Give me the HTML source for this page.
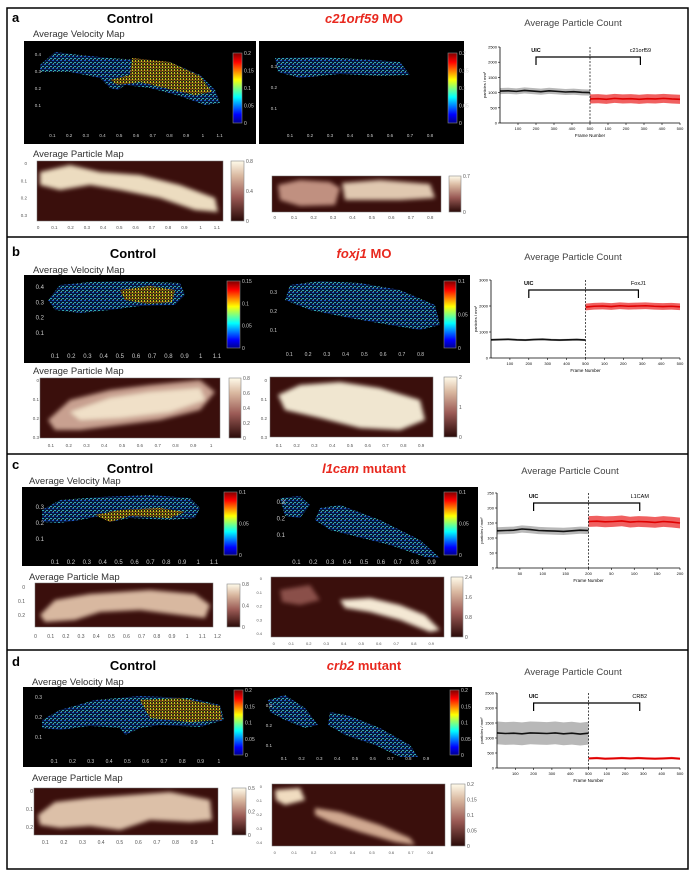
<!DOCTYPE html>
<html><head><meta charset="utf-8">
<style>
body{margin:0;background:#fff;}
svg{display:block;font-family:"Liberation Sans",Arial,sans-serif;}
</style></head>
<body>
<svg id="fig" width="693" height="875" viewBox="0 0 693 875" xmlns="http://www.w3.org/2000/svg">
<defs>
<linearGradient id="jet" x1="0" y1="1" x2="0" y2="0">
<stop offset="0" stop-color="#00008f"/><stop offset="0.12" stop-color="#0000ff"/><stop offset="0.37" stop-color="#00ffff"/><stop offset="0.62" stop-color="#ffff00"/><stop offset="0.87" stop-color="#ff0000"/><stop offset="1" stop-color="#800000"/>
</linearGradient>
<linearGradient id="pink" x1="0" y1="1" x2="0" y2="0">
<stop offset="0" stop-color="#2a0a08"/><stop offset="0.4" stop-color="#9a5a55"/><stop offset="0.75" stop-color="#d9b8a0"/><stop offset="1" stop-color="#fffbea"/>
</linearGradient>
<pattern id="dotsB" width="4" height="4" patternUnits="userSpaceOnUse">
<rect width="4" height="4" fill="#061640"/><rect x="0" y="0" width="2" height="1" fill="#1e60c0"/><rect x="2" y="2" width="2" height="1" fill="#30a8b0"/><rect x="1" y="3" width="1" height="1" fill="#5ab070"/>
</pattern>
<pattern id="dotsY" width="3" height="3" patternUnits="userSpaceOnUse">
<rect width="3" height="3" fill="#203010"/><rect x="0" y="0" width="1" height="2" fill="#c8c020"/><rect x="1.5" y="1" width="1" height="2" fill="#c05010"/>
</pattern>
<filter id="blur2"><feGaussianBlur stdDeviation="2.2"/></filter>
</defs>
<rect x="7" y="8" width="681" height="861" fill="none" stroke="#000" stroke-width="1.5"/>
<line x1="7" y1="237" x2="688" y2="237" stroke="#000" stroke-width="1.5"/>
<line x1="7" y1="454" x2="688" y2="454" stroke="#000" stroke-width="1.5"/>
<line x1="7" y1="650" x2="688" y2="650" stroke="#000" stroke-width="1.5"/>
<g id="root"></g>
</svg>
<script>
// ---- chart data (particle counts) ----
const ctrlMeanA=[1050,1060,1040,1070,1050,1030,1060,1040,1020,1030,1010,1000];
const mutMeanA=[790,800,780,810,790,800,780,800,790,810,790,780];
const ctrlMeanB=[700,710,720,700,690,710,720,700,690,700,710,690];
const mutMeanB=[1960,1990,2000,1980,2010,1990,2000,2010,1990,1980,1990,1970];
const ctrlMeanC=[124,125,126,130,128,125,124,123,122,124,126,125];
const mutMeanC=[155,156,154,155,157,153,155,154,152,155,153,150];
const ctrlMeanD=[1170,1150,1160,1140,1170,1160,1150,1170,1140,1160,1130,1160];
const mutMeanD=[320,330,310,320,330,320,330,320,310,320,330,310];
const spreadA=[100,150]; const spreadB=[40,130]; const spreadC=[12,18]; const spreadD=[380,40];
const yTicksA=[0,500,1000,1500,2000,2500]; const yTicksB=[0,1000,2000,3000];
const yTicksC=[0,50,100,150,200,250]; const yTicksD=[0,500,1000,1500,2000,2500];
const xTicks500=["100","200","300","400","500","100","200","300","400","500"];
const xTicks200=["50","100","150","200","50","100","150","200"];
const mutLabels=["c21orf59","FoxJ1","L1CAM","CRB2"];

const NS="http://www.w3.org/2000/svg";
const root=document.getElementById('root');
function mk(tag,attrs,parent){const e=document.createElementNS(NS,tag);for(const k in attrs)e.setAttribute(k,attrs[k]);(parent||root).appendChild(e);return e;}
function txt(x,y,s,size,opts,parent){const t=mk('text',Object.assign({x:x,y:y,'font-size':size},opts||{}),parent);t.textContent=s;return t;}

function chart(px,py,pw,ph,ymax,yTicks,xLabels,cMean,mMean,spread,mLabel,name){
  const g=mk('g',{});
  
  
  const ys=v=>py+ph-v/ymax*ph;
  const half=pw/2;
  function band(arr,x0,sp,fill,line,nm){
    const n=arr.length;const xs=i=>x0+i/(n-1)*half;
    let up=[],dn=[],ln=[];
    arr.forEach((v,i)=>{up.push(xs(i)+','+ys(v+sp));dn.unshift(xs(i)+','+ys(v-sp));ln.push(xs(i)+','+ys(v));});
    const b=mk('polygon',{points:up.concat(dn).join(' '),fill:fill},g);
    
    
    const l=mk('polyline',{points:ln.join(' '),fill:'none',stroke:line,'stroke-width':1.6},g);
    
    
  }
  band(cMean,px,spread[0],'#b8b8b8','#111','control');
  band(mMean,px+half,spread[1],'#f06060','#e00000','mutant');
  mk('line',{x1:px,y1:py,x2:px,y2:py+ph,stroke:'#000','stroke-width':0.8},g);
  mk('line',{x1:px,y1:py+ph,x2:px+pw,y2:py+ph,stroke:'#000','stroke-width':0.8},g);
  mk('line',{x1:px+half,y1:py,x2:px+half,y2:py+ph,stroke:'#000','stroke-width':0.7,'stroke-dasharray':'2,1.5'},g);
  yTicks.forEach(v=>{mk('line',{x1:px-2,y1:ys(v),x2:px,y2:ys(v),stroke:'#000','stroke-width':0.6},g);txt(px-3,ys(v)+1.5,String(v),4,{'text-anchor':'end'},g);});
  xLabels.forEach((s,i)=>{const x=px+(i+1)/xLabels.length*pw;mk('line',{x1:x,y1:py+ph,x2:x,y2:py+ph+2,stroke:'#000','stroke-width':0.6},g);txt(x,py+ph+7,s,4,{'text-anchor':'middle'},g);});
  txt(px+half,py+ph+14,'Frame Number',4.5,{'text-anchor':'middle'},g);
  const yl=txt(0,0,'particles / mm²',4,{'text-anchor':'middle',transform:`translate(${px-14},${py+ph/2}) rotate(-90)`},g);
  
  
  const bx1=px+pw*0.2,bx2=px+pw*0.78,by=py+10;
  mk('polyline',{points:`${bx1},${by+8} ${bx1},${by} ${bx2},${by} ${bx2},${by+8}`,fill:'none',stroke:'#000','stroke-width':1.2},g);
  txt(bx1,by-5,'UIC',5.5,{'text-anchor':'middle','font-weight':'bold'},g);
  txt(bx2,by-5,mLabel,5.5,{'text-anchor':'middle'},g);
}

function colorbar(x,y,w,h,grad,labels,color,name){
  const r=mk('rect',{x:x,y:y,width:w,height:h,fill:'url(#'+grad+')',stroke:'#888','stroke-width':0.6});
  
  
  labels.forEach((s,i)=>{txt(x+w+2,y+h-i/(labels.length-1)*h+2,s,5,{fill:color});});
}

function axesTicks(x0,y0,x1,labels,color,size,yLabels,yTop,yBot){
  labels.forEach((s,i)=>txt(x0+(i+0.5)/labels.length*(x1-x0),y0,s,size,{'text-anchor':'middle',fill:color}));
  if(yLabels) yLabels.forEach((s,i)=>txt(x0-3,yTop+i/(yLabels.length-1)*(yBot-yTop)+2,s,size,{'text-anchor':'end',fill:color}));
}

function velShape(pts,fill,name){
  const p=mk('polygon',{points:pts,fill:fill});
  
  
}
function partMap(x,y,w,h,blobs,name){
  const r=mk('rect',{x:x,y:y,width:w,height:h,fill:'#3a0f0c',stroke:'#777','stroke-width':0.5});
  
  
  const cp='cp'+name;
  const c=mk('clipPath',{id:cp});mk('rect',{x:x,y:y,width:w,height:h},c);
  const g=mk('g',{filter:'url(#blur2)','clip-path':'url(#'+cp+')'});
  blobs.forEach(b=>mk('polygon',{points:b[0],fill:b[1]},g));
}
function label(x,y,s,name,opts){const t=txt(x,y,s,opts.size,opts.a);return t;}
function mtitle(x,y,gene,rest,name){
  const t=mk('text',{x:x,y:y,'font-size':13,'font-weight':'bold','text-anchor':'middle',fill:'#e8281e'});
  
  
  const a=mk('tspan',{'font-style':'italic'},t);a.textContent=gene;
  const b=mk('tspan',{},t);b.textContent=' '+rest;
}

// ===== panel a =====
label(12,22,'a','panel-label-a',{size:13,a:{'font-weight':'bold'}});
label(130,23,'Control','title-control-a',{size:13,a:{'font-weight':'bold','text-anchor':'middle'}});
mtitle(364,23,'c21orf59','MO','title-mutant-a');
label(573,26,'Average Particle Count','title-count-a',{size:9.5,a:{'text-anchor':'middle',fill:'#444'}});
label(33,37,'Average Velocity Map','velocity-title-a',{size:9.5,a:{fill:'#333'}});
mk('rect',{x:24,y:41,width:232,height:103,fill:'#000'});
mk('rect',{x:259,y:41,width:205,height:103,fill:'#000'});
velShape('40,65 55,52 80,55 110,58 140,60 170,62 200,75 215,90 220,103 205,105 180,96 150,88 125,85 118,90 110,88 100,78 70,72 40,72','url(#dotsB)','velocity-control-a');
velShape('132,58 170,62 200,76 212,92 195,95 165,88 140,82 118,85 110,80 130,75','url(#dotsY)','velocity-fast-a');
velShape('275,58 320,57 375,60 400,62 410,75 380,76 340,74 300,78 278,72','url(#dotsB)','velocity-mutant-a');
colorbar(233,53,9,70,'jet',['0','0.05','0.1','0.15','0.2'],'#ccc','colorbar-velocity-control-a');
colorbar(448,53,9,70,'jet',['0','0.05','0.1','0.15','0.2'],'#ccc','colorbar-velocity-mutant-a');
axesTicks(44,137,228,['0.1','0.2','0.3','0.4','0.5','0.6','0.7','0.8','0.9','1','1.1'],'#ccc',4.5,['0.4','0.3','0.2','0.1'],54,105);
axesTicks(280,137,440,['0.1','0.2','0.3','0.4','0.5','0.6','0.7','0.8'],'#ccc',4.5,['0.3','0.2','0.1'],66,108);
label(33,157,'Average Particle Map','particle-title-a',{size:9.5,a:{fill:'#333'}});
partMap(37,161,186,60,[['40,172 70,165 100,172 140,175 180,185 215,198 218,212 195,210 160,198 120,190 90,185 60,190 40,185','#ecdcc0']],'particle-map-control-a');
colorbar(231,161,13,60,'pink',['0','0.4','0.8'],'#555','colorbar-particle-control-a');
partMap(272,176,169,36,[['278,185 300,180 330,182 340,188 335,205 300,206 280,200','#c09080'],['342,183 380,180 430,184 435,198 400,200 345,200','#e0c8b0']],'particle-map-mutant-a');
colorbar(449,176,12,36,'pink',['0','0.7'],'#555','colorbar-particle-mutant-a');
axesTicks(30,229,225,['0','0.1','0.2','0.3','0.4','0.5','0.6','0.7','0.8','0.9','1','1.1'],'#555',4.5,['0','0.1','0.2','0.3'],163,215);
axesTicks(265,219,440,['0','0.1','0.2','0.3','0.4','0.5','0.6','0.7','0.8'],'#555',4.5);
chart(500,47,180,76,2500,yTicksA,xTicks500,ctrlMeanA,mutMeanA,spreadA,mutLabels[0],'particle-count-chart-a');

// ===== panel b =====
label(12,256,'b','panel-label-b',{size:13,a:{'font-weight':'bold'}});
label(133,258,'Control','title-control-b',{size:13,a:{'font-weight':'bold','text-anchor':'middle'}});
mtitle(364,258,'foxj1','MO','title-mutant-b');
label(573,260,'Average Particle Count','title-count-b',{size:9.5,a:{'text-anchor':'middle',fill:'#444'}});
label(33,273,'Average Velocity Map','velocity-title-b',{size:9.5,a:{fill:'#333'}});
mk('rect',{x:24,y:275,width:446,height:88,fill:'#000'});
velShape('48,300 60,285 90,282 130,281 180,283 185,295 175,305 140,306 110,310 80,313 55,310','url(#dotsB)','velocity-control-b');
velShape('120,290 150,286 175,290 172,302 150,304 125,300','url(#dotsY)','velocity-fast-b');
velShape('285,300 290,285 320,281 360,283 400,290 435,305 440,325 420,330 390,325 350,318 310,310','url(#dotsB)','velocity-mutant-b');
colorbar(227,281,13,67,'jet',['0','0.05','0.1','0.15'],'#ccc','colorbar-velocity-control-b');
colorbar(444,281,12,67,'jet',['0','0.05','0.1'],'#ccc','colorbar-velocity-mutant-b');
axesTicks(47,358,225,['0.1','0.2','0.3','0.4','0.5','0.6','0.7','0.8','0.9','1','1.1'],'#ccc',6,['0.4','0.3','0.2','0.1'],287,333);
axesTicks(280,356,430,['0.1','0.2','0.3','0.4','0.5','0.6','0.7','0.8'],'#ccc',5,['0.3','0.2','0.1'],292,330);
label(33,374,'Average Particle Map','particle-title-b',{size:9.5,a:{fill:'#333'}});
partMap(40,378,180,60,[['48,420 70,400 110,390 150,385 200,380 215,392 200,410 160,420 120,425 80,430 55,430','#c8a090'],['70,412 110,398 150,392 200,388 205,400 170,412 120,418 80,420','#f0e0c8']],'particle-map-control-b');
colorbar(229,378,12,60,'pink',['0','0.2','0.4','0.6','0.8'],'#555','colorbar-particle-control-b');
partMap(270,377,163,60,[['278,395 300,385 340,382 380,388 420,400 425,420 400,430 360,428 320,418 285,410','#f0e6d0']],'particle-map-mutant-b');
colorbar(444,377,13,60,'pink',['0','1','2'],'#555','colorbar-particle-mutant-b');
axesTicks(42,447,220,['0.1','0.2','0.3','0.4','0.5','0.6','0.7','0.8','0.9','1'],'#555',4.5,['0','0.1','0.2','0.3'],380,437);
axesTicks(270,447,430,['0.1','0.2','0.3','0.4','0.5','0.6','0.7','0.8','0.9'],'#555',4.5,['0','0.1','0.2','0.3'],380,437);
chart(491,280,189,78,3000,yTicksB,xTicks500,ctrlMeanB,mutMeanB,spreadB,mutLabels[1],'particle-count-chart-b');

// ===== panel c =====
label(12,469,'c','panel-label-c',{size:13,a:{'font-weight':'bold'}});
label(130,473,'Control','title-control-c',{size:13,a:{'font-weight':'bold','text-anchor':'middle'}});
mtitle(364,473,'l1cam','mutant','title-mutant-c');
label(570,474,'Average Particle Count','title-count-c',{size:9.5,a:{'text-anchor':'middle',fill:'#444'}});
label(29,484,'Average Velocity Map','velocity-title-c',{size:9.5,a:{fill:'#333'}});
mk('rect',{x:22,y:487,width:456,height:79,fill:'#000'});
velShape('42,510 60,500 100,497 150,495 190,498 200,508 195,518 170,520 130,518 110,522 100,516 80,520 60,523 42,522','url(#dotsB)','velocity-control-c');
velShape('95,515 120,510 160,508 185,512 170,518 130,516 110,522','url(#dotsY)','velocity-fast-c');
velShape('280,498 300,496 310,505 300,518 285,516','url(#dotsB)','velocity-mutant-c-1');
velShape('320,508 340,505 380,520 420,540 440,558 425,557 390,545 350,535 330,530 315,520','url(#dotsB)','velocity-mutant-c-2');
colorbar(224,492,13,63,'jet',['0','0.05','0.1'],'#ccc','colorbar-velocity-control-c');
colorbar(444,492,13,63,'jet',['0','0.05','0.1'],'#ccc','colorbar-velocity-mutant-c');
axesTicks(47,564,222,['0.1','0.2','0.3','0.4','0.5','0.6','0.7','0.8','0.9','1','1.1'],'#ccc',6,['0.3','0.2','0.1'],507,539);
axesTicks(288,564,440,['0.1','0.2','0.3','0.4','0.5','0.6','0.7','0.8','0.9'],'#ccc',6,['0.3','0.2','0.1'],502,535);
label(29,580,'Average Particle Map','particle-title-c',{size:9.5,a:{fill:'#333'}});
partMap(35,583,178,44,[['40,615 55,600 90,594 150,590 195,594 210,605 205,618 180,615 140,610 100,612 75,620 45,622','#d8b8a0']],'particle-map-control-c');
colorbar(227,584,13,43,'pink',['0','0.4','0.8'],'#555','colorbar-particle-control-c');
partMap(271,577,173,60,[['280,590 310,585 320,600 300,605 282,602','#8a5048'],['340,600 370,598 400,605 425,615 440,630 430,632 400,620 370,612 345,608','#f4e8d4']],'particle-map-mutant-c');
colorbar(451,577,12,60,'pink',['0','0.8','1.6','2.4'],'#555','colorbar-particle-mutant-c');
axesTicks(28,638,225,['0','0.1','0.2','0.3','0.4','0.5','0.6','0.7','0.8','0.9','1','1.1','1.2'],'#555',5,['0','0.1','0.2'],587,615);
axesTicks(265,645,440,['0','0.1','0.2','0.3','0.4','0.5','0.6','0.7','0.8','0.9'],'#555',4,['0','0.1','0.2','0.3','0.4'],578,633);
chart(497,493,183,75,250,yTicksC,xTicks200,ctrlMeanC,mutMeanC,spreadC,mutLabels[2],'particle-count-chart-c');

// ===== panel d =====
label(12,666,'d','panel-label-d',{size:13,a:{'font-weight':'bold'}});
label(133,670,'Control','title-control-d',{size:13,a:{'font-weight':'bold','text-anchor':'middle'}});
mtitle(364,670,'crb2','mutant','title-mutant-d');
label(573,675,'Average Particle Count','title-count-d',{size:9.5,a:{'text-anchor':'middle',fill:'#444'}});
label(32,685,'Average Velocity Map','velocity-title-d',{size:9.5,a:{fill:'#333'}});
mk('rect',{x:23,y:687,width:449,height:80,fill:'#000'});
velShape('42,720 60,710 95,700 140,696 190,698 220,705 224,720 200,727 160,725 140,728 125,735 120,728 90,726 60,730 42,728','url(#dotsB)','velocity-control-d');
velShape('140,700 180,698 220,706 222,720 190,722 150,718','url(#dotsY)','velocity-fast-d');
velShape('268,700 285,695 305,708 318,725 305,728 285,720 270,712','url(#dotsB)','velocity-mutant-d-1');
velShape('330,712 350,716 380,728 410,745 418,757 400,757 375,745 345,735 328,725','url(#dotsB)','velocity-mutant-d-2');
colorbar(234,690,9,65,'jet',['0','0.05','0.1','0.15','0.2'],'#ccc','colorbar-velocity-control-d');
colorbar(450,690,9,65,'jet',['0','0.05','0.1','0.15','0.2'],'#ccc','colorbar-velocity-mutant-d');
axesTicks(45,763,228,['0.1','0.2','0.3','0.4','0.5','0.6','0.7','0.8','0.9','1'],'#ccc',5,['0.3','0.2','0.1'],697,737);
axesTicks(275,760,435,['0.1','0.2','0.3','0.4','0.5','0.6','0.7','0.8','0.9'],'#ccc',4.5,['0.3','0.2','0.1'],705,745);
label(32,781,'Average Particle Map','particle-title-d',{size:9.5,a:{fill:'#333'}});
partMap(34,788,184,47,[['38,815 55,802 90,798 130,795 170,792 210,800 212,820 190,822 150,820 120,830 90,826 60,828 40,825','#dcc0a8']],'particle-map-control-d');
colorbar(232,788,14,47,'pink',['0','0.2','0.5'],'#555','colorbar-particle-control-d');
partMap(272,784,173,62,[['275,790 300,788 305,800 285,805 276,800','#f0dcc0'],['315,808 340,812 380,825 410,838 415,845 395,842 360,832 330,822 315,815','#d0a890']],'particle-map-mutant-d');
colorbar(451,784,14,62,'pink',['0','0.05','0.1','0.15','0.2'],'#555','colorbar-particle-mutant-d');
axesTicks(36,844,222,['0.1','0.2','0.3','0.4','0.5','0.6','0.7','0.8','0.9','1'],'#555',5,['0','0.1','0.2'],791,827);
axesTicks(265,854,440,['0','0.1','0.2','0.3','0.4','0.5','0.6','0.7','0.8'],'#555',4,['0','0.1','0.2','0.3','0.4'],786,842);
chart(497,693,183,75,2500,yTicksD,xTicks500,ctrlMeanD,mutMeanD,spreadD,mutLabels[3],'particle-count-chart-d');
</script>
</body></html>
